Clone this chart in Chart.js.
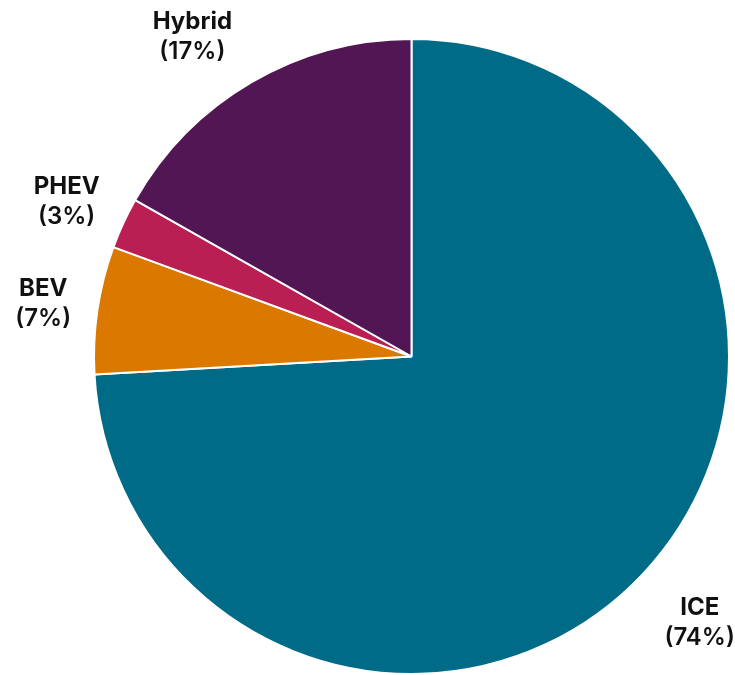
<!DOCTYPE html>
<html>
<head>
<meta charset="utf-8">
<script src="https://cdn.jsdelivr.net/npm/chart.js@4.4.1/dist/chart.umd.min.js"></script>
<style>
  html, body { margin: 0; padding: 0; background: #ffffff; }
  #wrap { width: 735px; height: 675px; }
</style>
</head>
<body>
<div id="wrap"><canvas id="pieChart" width="735" height="675"></canvas></div>
<script>
// powertrain share
const categories = ['ICE', 'BEV', 'PHEV', 'Hybrid'];
const shares = [74.1, 6.5, 2.6, 16.8];
const sliceColors = ['#006b87', '#db7800', '#b91f52', '#511653'];

// names + percentages outside each slice, small nudges so they sit clear of the rim
const labelNudge = [[8, 2], [13, 4], [5, 7], [-25, 13]];

const outsideLabels = {
    id: 'outsideLabels',
    afterDatasetsDraw(chart) {
        const ctx = chart.ctx;
        const meta = chart.getDatasetMeta(0);
        const total = shares.reduce((a, b) => a + b, 0);
        ctx.save();
        ctx.fillStyle = '#111111';
        ctx.textAlign = 'center';
        ctx.textBaseline = 'middle';
        meta.data.forEach((arc, i) => {
            const p = arc.getProps(['x', 'y', 'startAngle', 'endAngle', 'outerRadius'], true);
            const mid = (p.startAngle + p.endAngle) / 2;
            const dist = p.outerRadius + 68;
            const lx = p.x + Math.cos(mid) * dist + labelNudge[i][0];
            const ly = p.y + Math.sin(mid) * dist + labelNudge[i][1];
            const pct = Math.round(shares[i] / total * 100);
            ctx.font = 'bold 24px Inter, "DejaVu Sans", sans-serif';
            ctx.fillText(categories[i], lx, ly - 15);
            ctx.font = '600 24px Inter, "DejaVu Sans", sans-serif';
            ctx.fillText('(' + pct + '%)', lx, ly + 15);
        });
        ctx.restore();
    }
};

var ctx = document.getElementById('pieChart').getContext('2d');
var pieChart = new Chart(ctx, {
    type: 'pie',
    data: {
        labels: categories,
        datasets: [{
            data: shares,
            backgroundColor: sliceColors,
            borderColor: '#ffffff',
            borderWidth: 2
        }]
    },
    options: {
        responsive: false,
        animation: false,
        layout: { padding: { left: 91, right: 3, top: 38, bottom: 0 } },
        plugins: {
            legend: { display: false },
            tooltip: { enabled: false }
        }
    },
    plugins: [outsideLabels]
});
</script>
</body>
</html>
